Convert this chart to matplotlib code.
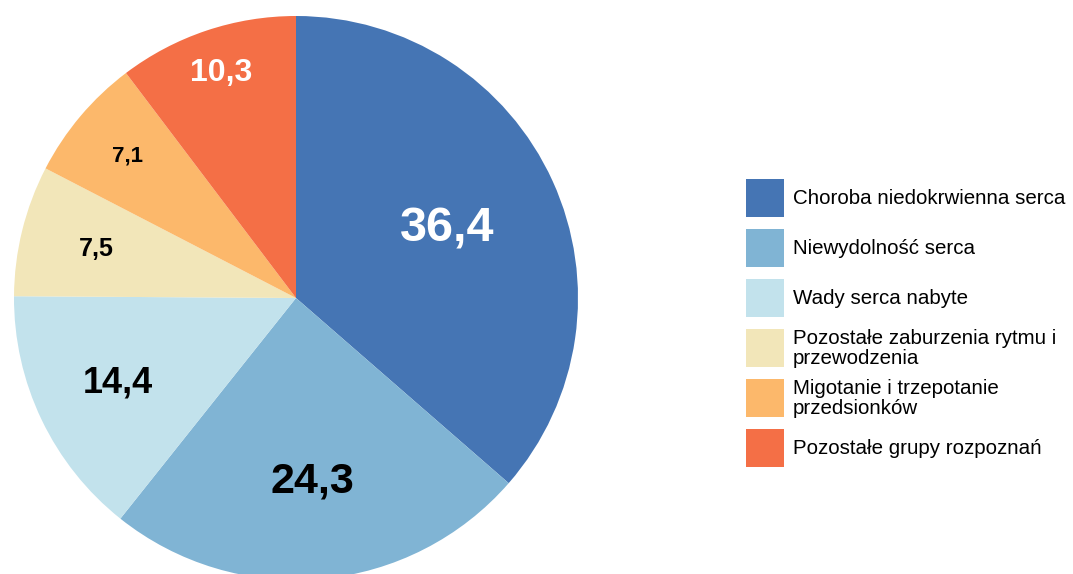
import matplotlib
matplotlib.use("Agg")
import matplotlib.pyplot as plt
import numpy as np
from matplotlib.patches import Rectangle

plt.rcParams["font.family"] = ["Liberation Sans", "DejaVu Sans"]

categories = ["Choroba niedokrwienna serca", "Niewydolność serca", "Wady serca nabyte",
              "Pozostałe zaburzenia rytmu i\nprzewodzenia", "Migotanie i trzepotanie\nprzedsionków",
              "Pozostałe grupy rozpoznań"]
values = [36.4, 24.3, 14.4, 7.5, 7.1, 10.3]
labels = ["36,4", "24,3", "14,4", "7,5", "7,1", "10,3"]
colors = ["#4575b4", "#80b4d4", "#c2e2ec", "#f2e6b9", "#fcb86b", "#f46f46"]
label_colors = ["white", "black", "black", "black", "black", "white"]
label_sizes = [35, 31, 26, 18, 16, 23]
label_radius = [0.59, 0.655, 0.70, 0.73, 0.78, 0.84]

W, H = 1073, 574
fig = plt.figure(figsize=(W / 100, H / 100), dpi=100)
ax = fig.add_axes([14 / W, (H - 580) / H, 564 / W, 564 / H])
wedges, _ = ax.pie(values, colors=colors, startangle=90, counterclock=False,
                   radius=1, wedgeprops=dict(linewidth=0))
ax.set_xlim(-1, 1); ax.set_ylim(-1, 1); ax.set_aspect("equal"); ax.axis("off")

for w, lab, c, s, r in zip(wedges, labels, label_colors, label_sizes, label_radius):
    t = np.deg2rad((w.theta1 + w.theta2) / 2)
    ax.text(r * np.cos(t), r * np.sin(t), lab, color=c, fontsize=s, fontweight="bold",
            ha="center", va="center")

# legenda rysowana ręcznie
for i, (cat, col) in enumerate(zip(categories, colors)):
    y0 = 179 + 50 * i
    fig.patches.append(Rectangle((746 / W, 1 - (y0 + 38) / H), 38 / W, 38 / H,
                                 transform=fig.transFigure, color=col, lw=0))
    fig.text(793 / W, 1 - (y0 + 19.5) / H, cat, fontsize=14.8, va="center", ha="left",
             linespacing=1.02)

fig.savefig("out.png", dpi=100)
